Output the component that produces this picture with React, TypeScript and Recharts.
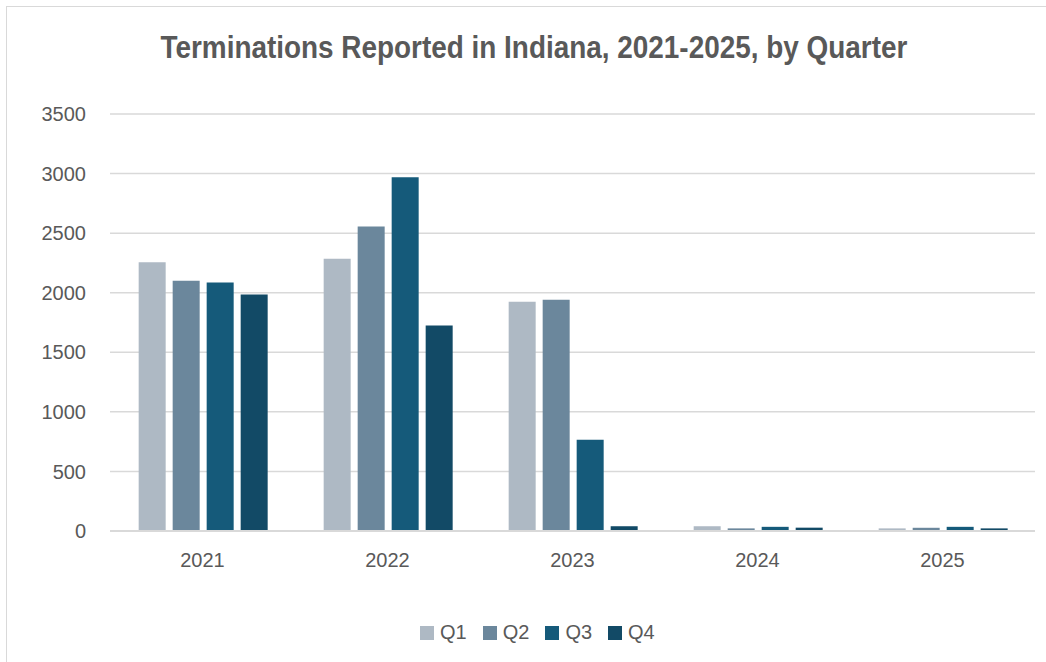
import { BarChart, Bar, XAxis, YAxis, CartesianGrid, Legend } from 'recharts'

const years = ['2021', '2022', '2023', '2024', '2025']
const q1 = [2255, 2285, 1925, 40, 22]
const q2 = [2100, 2555, 1940, 22, 27]
const q3 = [2085, 2970, 765, 35, 35]
const q4 = [1985, 1725, 40, 28, 22]
const yTicks = [0, 500, 1000, 1500, 2000, 2500, 3000, 3500]

const series = [
  { key: 'Q1', values: q1, color: '#aeb9c4' },
  { key: 'Q2', values: q2, color: '#6b879c' },
  { key: 'Q3', values: q3, color: '#155a7a' },
  { key: 'Q4', values: q4, color: '#124a66' },
]

const data = years.map((year, i) => {
  const row: Record<string, string | number> = { year }
  series.forEach((s) => { row[s.key] = s.values[i] })
  return row
})

const font = '"Liberation Sans", Arial, sans-serif'

const LegendContent = () => (
  <div style={{ display: 'flex', justifyContent: 'flex-start', gap: 16, fontFamily: font, fontSize: 20, color: '#595959' }}>
    {series.map((s) => (
      <div key={s.key} style={{ display: 'flex', alignItems: 'center', gap: 6 }}>
        <div style={{ width: 14, height: 14, backgroundColor: s.color }}></div>
        <span>{s.key}</span>
      </div>
    ))}
  </div>
)

export default function App() {
  return (
    <div style={{ position: 'absolute', left: 0, top: 0, width: 1046, height: 662, background: '#fff', overflow: 'hidden' }}>
      <div style={{ position: 'absolute', left: 6, top: 6, width: 1100, height: 700, border: '1.5px solid #d9d9d9' }}></div>
      <div style={{ position: 'absolute', left: 0, top: 30, width: 1068, textAlign: 'center' }}>
        <span style={{
          display: 'inline-block', transform: 'scaleX(0.9)',
          fontFamily: font, fontWeight: 'bold', fontSize: 31, color: '#595959', whiteSpace: 'nowrap',
        }}>
          Terminations Reported in Indiana, 2021-2025, by Quarter
        </span>
      </div>
      <div style={{ position: 'absolute', left: 0, top: 0 }}>
        <BarChart
          width={1046}
          height={662}
          data={data}
          margin={{ top: 114, right: 11, left: 0, bottom: 68 }}
          barCategoryGap="15.5%"
          barGap={7}
        >
          <CartesianGrid vertical={false} stroke="#d9d9d9" strokeWidth={1.5} />
          <XAxis
            dataKey="year"
            height={40}
            tickLine={false}
            tickSize={0}
            tickMargin={22}
            axisLine={{ stroke: '#d9d9d9', strokeWidth: 2 }}
            tick={{ fill: '#595959', fontSize: 20, fontFamily: font }}
          />
          <YAxis
            width={110}
            domain={[0, 3500]}
            ticks={yTicks}
            interval={0}
            tickLine={false}
            axisLine={false}
            tickSize={0}
            tickMargin={24}
            tick={{ fill: '#595959', fontSize: 20, fontFamily: font }}
          />
          <Legend
            verticalAlign="bottom"
            content={<LegendContent />}
            wrapperStyle={{ left: 420, width: 300, bottom: 18 }}
          />
          {series.map((s) => (
            <Bar key={s.key} dataKey={s.key} fill={s.color} isAnimationActive={false} />
          ))}
        </BarChart>
      </div>
    </div>
  )
}
